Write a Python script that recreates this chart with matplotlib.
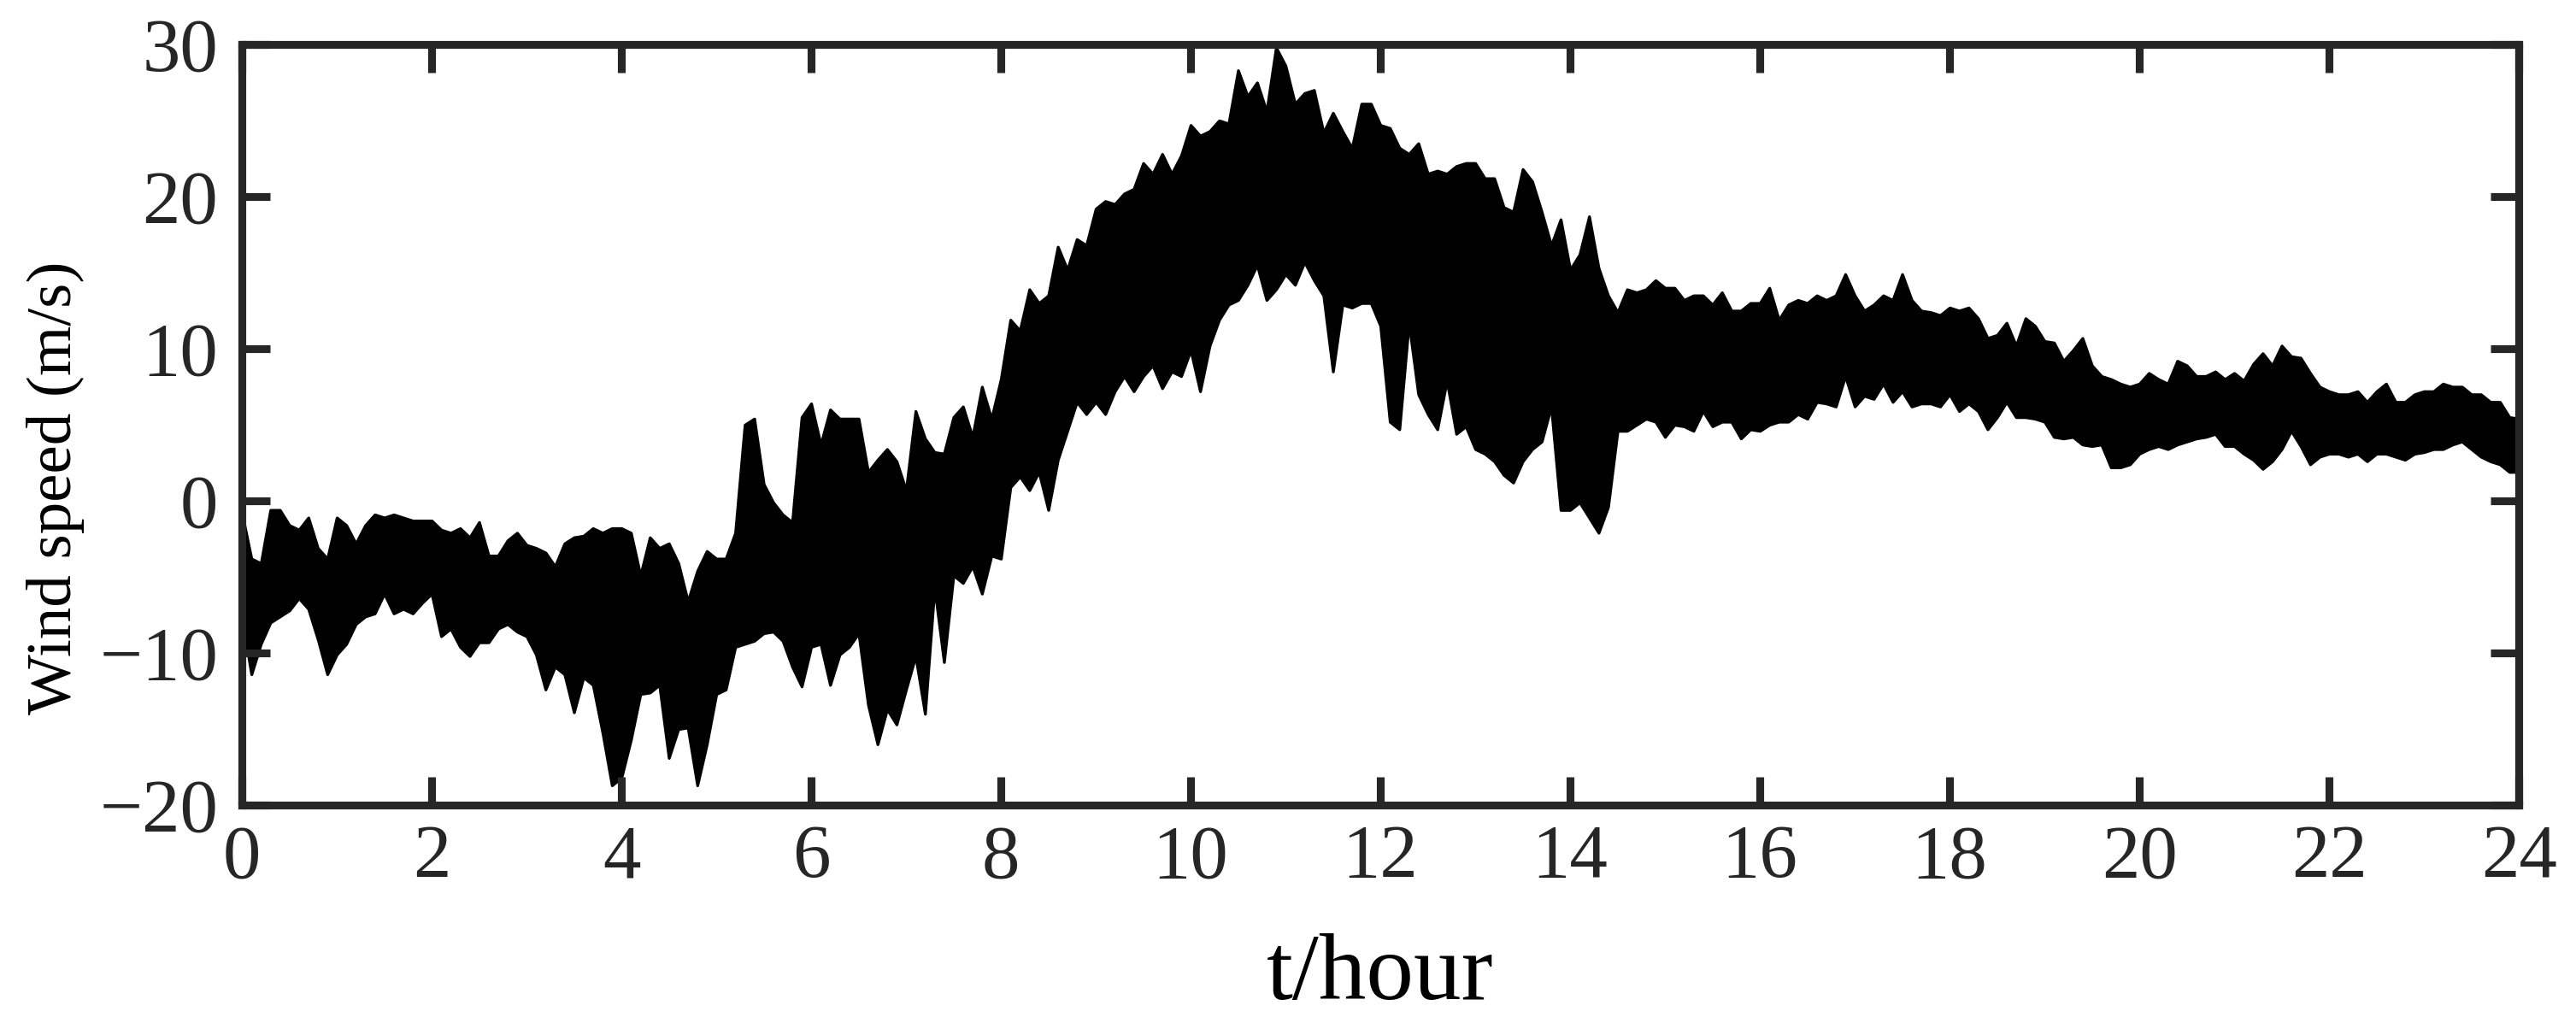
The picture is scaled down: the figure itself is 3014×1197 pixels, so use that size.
import numpy as np
import matplotlib
matplotlib.use("Agg")
import matplotlib.pyplot as plt

# sampling grid of the envelope readings, every 0.1 h from 0 to 24 h
hours = np.round(np.arange(241) * 0.1, 1)

# upper envelope of the wind speed trace (m/s)
upper = [
    -0.8, -3.8, -4.1, -0.6, -0.6, -1.6, -1.9, -1.1, -3.1, -3.8,
    -1.1, -1.6, -2.8, -1.6, -0.9, -1.1, -0.9, -1.1, -1.3, -1.3,
    -1.3, -1.9, -2.1, -1.8, -2.4, -1.4, -3.6, -3.6, -2.6, -2.1,
    -2.9, -3.1, -3.4, -4.3, -2.8, -2.4, -2.3, -1.8, -2.1, -1.8,
    -1.8,
    -2.1, -4.9, -2.4, -3.1, -2.8, -4.1, -6.6, -4.6, -3.3, -3.8,
    -3.8, -2.1, 5.0, 5.4, 1.1, -0.1, -0.9, -1.4, 5.5, 6.4,
    3.7, 6.0, 5.4, 5.4, 5.4, 1.9, 2.7, 3.4, 2.6, 0.7,
    5.9, 4.1, 3.2, 3.1, 5.5, 6.2, 4.2, 7.5, 5.4, 8.0,
    11.9, 11.2, 13.9, 13.0, 13.5, 16.7, 15.2, 17.2, 16.8, 19.2,
    19.7, 19.5, 20.2, 20.5, 22.2, 21.5, 22.8, 21.5, 22.7, 24.7,
    24.0, 24.3, 25.0, 24.8, 28.3, 26.6, 27.5, 25.6, 29.8, 28.6,
    26.1, 26.8, 27.0, 24.2, 25.5, 24.3, 23.2, 26.1, 26.1, 24.7,
    24.5, 23.2, 22.8, 23.5, 21.5, 21.7, 21.5, 22.0, 22.2, 22.2,
    21.2, 21.2, 19.3, 19.0, 21.8, 21.0, 19.0, 16.8, 18.5, 15.2,
    16.2, 18.7, 15.3, 13.5, 12.4, 13.9, 13.7, 13.9, 14.5, 14.0,
    14.0, 13.2, 13.5, 13.5, 12.9, 13.7, 12.5, 12.5, 13.0, 13.0,
    14.0, 11.9, 12.9, 13.2, 13.0, 13.5, 13.2, 13.5, 14.9, 13.5,
    12.5, 12.9, 13.5, 13.2, 14.9, 13.2, 12.5, 12.4, 12.2, 12.7,
    12.5, 12.7, 12.0, 10.7, 10.9, 11.7, 10.2, 12.0, 11.5, 10.5,
    10.4, 9.2, 9.9, 10.7, 8.9, 8.2, 8.0, 7.7, 7.5, 7.7,
    8.4, 8.0, 7.7, 9.2, 8.9, 8.2, 8.2, 8.5, 8.0, 8.4,
    7.9, 9.0, 9.7, 8.9, 10.2, 9.5, 9.4, 8.4, 7.5, 7.2,
    7.0, 7.0, 7.2, 6.5, 7.2, 7.7, 6.5, 6.5, 7.0, 7.2,
    7.2, 7.7, 7.5, 7.5, 7.0, 7.0, 6.5, 6.5, 5.5, 5.4,
]

# lower envelope of the wind speed trace (m/s)
lower = [
    -7.7, -11.4, -9.4, -8.0, -7.6, -7.2, -6.4, -7.1, -9.1, -11.4,
    -10.1, -9.4, -8.1, -7.6, -7.4, -6.1, -7.4, -7.1, -7.4, -6.7,
    -6.1, -8.9, -8.4, -9.6, -10.2, -9.3, -9.3, -8.4, -8.1, -8.6,
    -8.9, -10.1, -12.4, -10.9, -11.4, -13.9, -11.6, -12.1, -15.2, -18.7,
    -18.2,
    -15.7, -12.7, -12.6, -12.1, -16.9, -15.0, -14.9, -18.7, -16.0, -12.7,
    -12.4, -9.6, -9.4, -9.2, -8.7, -8.6, -9.2, -10.9, -12.2, -9.6,
    -9.4, -12.1, -10.1, -9.6, -8.7, -13.4, -16.0, -13.7, -14.7, -12.4,
    -10.2, -14.0, -5.7, -10.6, -4.9, -5.4, -4.3, -6.1, -3.6, -3.8,
    0.9, 1.6, 0.7, 1.9, -0.6, 2.7, 4.6, 6.5, 5.7, 6.5,
    5.7, 7.2, 8.2, 7.2, 8.2, 8.9, 7.4, 8.5, 8.2, 9.9,
    7.2, 10.2, 11.9, 12.9, 13.2, 14.2, 15.5, 13.2, 13.9, 14.9,
    14.2, 15.7, 14.5, 13.5, 8.5, 12.9, 12.7, 13.0, 13.0, 11.5,
    5.2, 4.7, 11.7, 7.0, 5.7, 4.7, 7.9, 4.4, 4.9, 3.4,
    3.1, 2.6, 1.7, 1.2, 2.6, 3.4, 3.9, 6.2, -0.6, -0.6,
    -0.1, -1.1, -2.1, -0.4, 4.6, 4.6, 5.0, 5.4, 5.2, 4.2,
    5.0, 4.9, 4.6, 5.9, 4.9, 5.2, 5.2, 4.1, 4.7, 4.6,
    5.0, 5.2, 5.2, 5.7, 5.4, 6.5, 6.4, 6.2, 8.2, 6.2,
    6.9, 6.7, 7.7, 6.5, 7.2, 6.2, 6.4, 6.4, 6.2, 7.0,
    5.9, 6.4, 5.9, 4.7, 5.5, 6.5, 5.5, 5.5, 5.4, 5.2,
    4.2, 4.1, 4.2, 3.7, 3.6, 3.7, 2.2, 2.2, 2.4, 3.1,
    3.4, 3.6, 3.4, 3.7, 3.9, 4.1, 4.2, 4.4, 3.6, 3.6,
    3.1, 2.7, 2.1, 2.6, 3.4, 4.6, 3.6, 2.4, 2.9, 3.1,
    3.1, 2.9, 3.1, 2.6, 3.1, 3.1, 2.9, 2.7, 3.1, 3.2,
    3.4, 3.4, 3.7, 3.9, 3.4, 2.9, 2.6, 2.4, 1.9, 1.9,
]

x_ticks = [0, 2, 4, 6, 8, 10, 12, 14, 16, 18, 20, 22, 24]
y_ticks = [-20, -10, 0, 10, 20, 30]

plt.rcParams['font.family'] = ['Liberation Serif', 'DejaVu Serif']
axis_col = '#262626'

fig = plt.figure(figsize=(15.07, 5.985), dpi=200)
ax = fig.add_axes([0.0939, 0.2130, 0.8839, 0.7436])

# the trace is drawn as the filled band between its read envelopes
ax.fill_between(hours, lower, upper, color='black', linewidth=1.2, edgecolor='black')

ax.set_xlim(0, 24)
ax.set_ylim(-20, 30)
ax.set_xticks(x_ticks)
ax.set_yticks(y_ticks)
ax.tick_params(direction='in', length=12, width=3.3, colors=axis_col,
               labelsize=32, top=True, right=True, pad=8)
ax.tick_params(axis='y', pad=10)
for sp in ax.spines.values():
    sp.set_linewidth(3.3)
    sp.set_color(axis_col)

ax.set_xlabel('t/hour', fontsize=40, color='black', labelpad=17)
ax.set_ylabel('Wind speed (m/s)', fontsize=27, color='black')
# the y label sits a little below the middle of the axis in the original
ax.yaxis.set_label_coords(-0.069, 0.417)

fig.savefig('out.png', dpi=200)
